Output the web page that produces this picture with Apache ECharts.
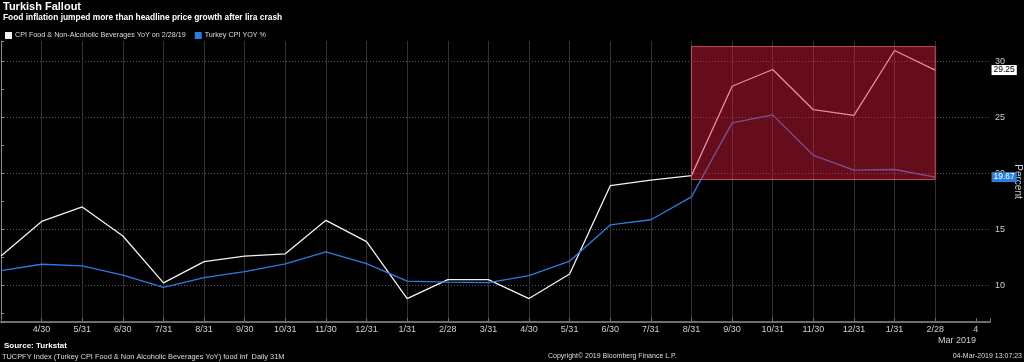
<!DOCTYPE html>
<html><head><meta charset="utf-8">
<script src="https://cdn.jsdelivr.net/npm/echarts@6/dist/echarts.min.js"></script>
<style>html,body{margin:0;padding:0;background:#000;}#c{width:1024px;height:362px;}</style>
</head><body><div id="c"></div>
<script>
// Monthly observations, index 0 = 3/31/2017 ... index 23 = 2/28/2019, index 24 = Mar 4 2019 (no data)
const monthLabels = ['3/31','4/30','5/31','6/30','7/31','8/31','9/30','10/31','11/30','12/31','1/31','2/28','3/31','4/30','5/31','6/30','7/31','8/31','9/30','10/31','11/30','12/31','1/31','2/28','4'];
const foodYoY = [12.6,15.7,17.0,14.4,10.2,12.1,12.6,12.8,15.8,13.9,8.8,10.5,10.5,8.8,11.0,18.9,19.4,19.8,27.8,29.3,25.7,25.2,31.0,29.25];
const cpiYoY = [11.29,11.87,11.72,10.90,9.79,10.68,11.20,11.90,12.98,11.92,10.35,10.26,10.23,10.85,12.15,15.39,15.85,17.90,24.52,25.24,21.62,20.30,20.35,19.67];
const yTickLabels = [10,15,20,25,30];
const highlightIdx = [17, 23];
const highlightVal = [19.45, 31.35];
const seriesNames = ['CPI Food & Non-Alcoholic Beverages YoY on 2/28/19', 'Turkey CPI YOY %'];

const FONT = "'Liberation Sans', sans-serif";

const xSplitColors = monthLabels.map((l, i) => (i === 0 || i === monthLabels.length - 1) ? 'rgba(0,0,0,0)' : '#333333');
xSplitColors.push('rgba(0,0,0,0)');

const chart = echarts.init(document.getElementById('c'), null, {renderer: 'canvas'});
const lastIdx = foodYoY.length - 1;
chart.setOption({
  backgroundColor: '#000',
  animation: false,
  title: [
    {text: 'Turkish Fallout', left: 3, top: 1, padding: 0, textStyle: {color: '#fff', fontSize: 11, fontWeight: 'bold', fontFamily: FONT}},
    {text: 'Food inflation jumped more than headline price growth after lira crash', left: 3, top: 14, padding: 0, textStyle: {color: '#fff', fontSize: 8.4, fontWeight: 'bold', fontFamily: FONT}},
    {text: 'Source: Turkstat', left: 4, top: 342, padding: 0, textStyle: {color: '#fff', fontSize: 8, fontWeight: 'bold', fontFamily: FONT}},
    {text: 'TUCPFY Index (Turkey CPI Food & Non Alcoholic Beverages YoY) food inf  Daily 31M', left: 2, top: 353, padding: 0, textStyle: {color: '#ddd', fontSize: 7.4, fontWeight: 'normal', fontFamily: FONT}},
    {text: 'Copyright\u00A9 2019 Bloomberg Finance L.P.', left: 548, top: 353, padding: 0, textStyle: {color: '#ddd', fontSize: 7, fontWeight: 'normal', fontFamily: FONT}},
    {text: '04-Mar-2019 13:07:23', right: 2, top: 353, padding: 0, textStyle: {color: '#ddd', fontSize: 7, fontWeight: 'normal', fontFamily: FONT}}
  ],
  legend: {
    left: 5, top: 32, padding: 0, itemWidth: 7, itemHeight: 7, itemGap: 9, icon: 'rect',
    data: seriesNames,
    textStyle: {color: '#ddd', fontSize: 7.2, fontFamily: FONT, padding: [0, 0, 0, -2]}
  },
  grid: {left: 1, right: 34, top: 41, bottom: 40, containLabel: false, outerBoundsMode: 'none'},
  xAxis: {
    type: 'value', min: 0, max: 24.35, interval: 1,
    axisLine: {show: true, lineStyle: {color: '#6e6e6e', width: 2}},
    axisTick: {show: true, inside: true, length: 4, lineStyle: {color: '#6e6e6e'}},
    axisLabel: {
      color: '#cfcfcf', fontSize: 9, fontFamily: FONT, margin: 3, showMinLabel: true, showMaxLabel: true, hideOverlap: false,
      formatter: v => (Number.isInteger(v) && v > 0 && v < monthLabels.length) ? monthLabels[v] : ''
    },
    splitLine: {show: true, lineStyle: {color: xSplitColors, width: 1}},
    name: 'Mar 2019', nameLocation: 'end', nameGap: 0, nameMoveOverlap: false,
    nameTextStyle: {color: '#cfcfcf', fontSize: 9, fontFamily: FONT, align: 'right', verticalAlign: 'top', padding: [14, 14, 0, 0]}
  },
  yAxis: {
    type: 'value', position: 'right', min: 6.7, max: 31.85, splitNumber: 5,
    axisLine: {show: true, lineStyle: {color: '#8a8a8a', width: 1}},
    axisTick: {show: true, length: 3, lineStyle: {color: '#8a8a8a'}},
    minorTick: {show: true, splitNumber: 2, length: 3, lineStyle: {color: '#8a8a8a'}},
    axisLabel: {color: '#cfcfcf', fontSize: 9, fontFamily: FONT, margin: 5, formatter: v => yTickLabels.includes(v) ? String(v) : ''},
    splitLine: {show: true, showMinLine: false, showMaxLine: false, lineStyle: {color: '#5a5a5a', type: [1, 2], width: 1}},
    name: 'Percent', nameLocation: 'middle', nameRotate: -90, nameGap: 23, nameMoveOverlap: false,
    nameTextStyle: {color: '#cfcfcf', fontSize: 10, fontFamily: FONT}
  },
  series: [
    {
      name: seriesNames[0], type: 'line', symbol: 'none', z: 3,
      color: '#f2f2f2', lineStyle: {width: 1.3, color: '#f2f2f2'},
      data: foodYoY.map((v, i) => [i, v]),
      markPoint: {
        symbol: 'rect', symbolSize: 0, silent: true,
        data: [{coord: [lastIdx, foodYoY[lastIdx]], value: foodYoY[lastIdx]}],
        label: {show: true, position: 'inside', offset: [69, 0], formatter: p => p.value.toFixed(2),
          backgroundColor: '#ffffff', color: '#000', fontSize: 8.5, fontFamily: FONT, padding: [1, 2, 0, 2]}
      }
    },
    {
      name: seriesNames[1], type: 'line', symbol: 'none', z: 3,
      color: '#2a7de1', lineStyle: {width: 1.3, color: '#2a7de1'},
      data: cpiYoY.map((v, i) => [i, v]),
      markPoint: {
        symbol: 'rect', symbolSize: 0, silent: true,
        data: [{coord: [lastIdx, cpiYoY[lastIdx]], value: cpiYoY[lastIdx]}],
        label: {show: true, position: 'inside', offset: [69, 0], formatter: p => p.value.toFixed(2),
          backgroundColor: '#2a7de1', color: '#fff', fontSize: 8.5, fontFamily: FONT, padding: [1, 2, 0, 2]}
      }
    },
    {
      name: 'highlight', type: 'line', data: [], z: 10, silent: true,
      markArea: {
        silent: true, z: 10,
        itemStyle: {color: 'rgba(215,28,58,0.47)', borderColor: 'rgba(225,85,105,0.85)', borderWidth: 1},
        data: [[{coord: [highlightIdx[0], highlightVal[1]]}, {coord: [highlightIdx[1], highlightVal[0]]}]]
      }
    }
  ]
});
</script></body></html>
